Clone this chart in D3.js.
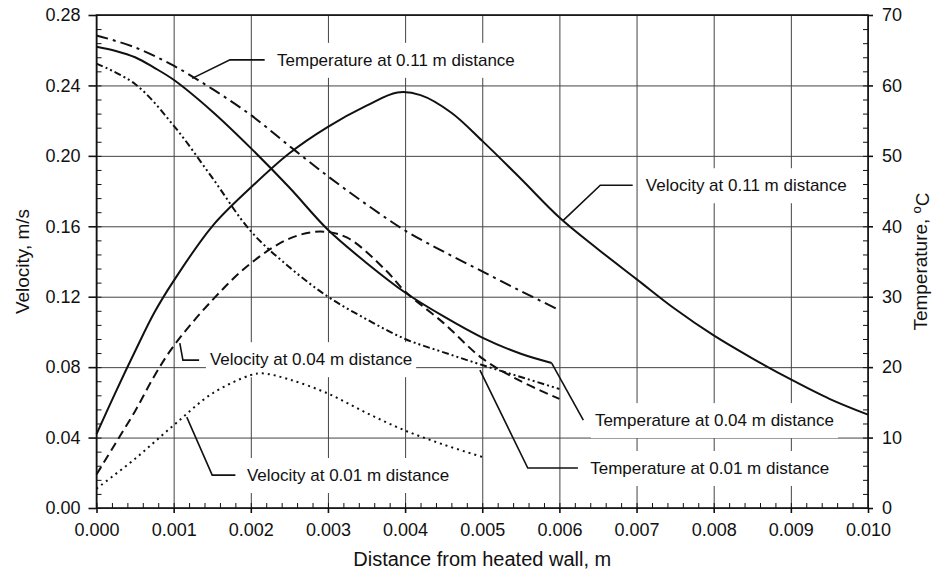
<!DOCTYPE html>
<html>
<head>
<meta charset="utf-8">
<script src="https://cdn.jsdelivr.net/npm/d3@7"></script>
<style>
    body { margin: 0; background: #fff; }
    svg text { font-family: "Liberation Sans", Arial, sans-serif; fill: #111; }
</style>
</head>
<body>
<div id="chart"></div>
<script>
// tick values for the three axes
var xTicks = [0, 0.001, 0.002, 0.003, 0.004, 0.005, 0.006, 0.007, 0.008, 0.009, 0.010];
var velTicks = [0, 0.04, 0.08, 0.12, 0.16, 0.20, 0.24, 0.28];
var tempTicks = [0, 10, 20, 30, 40, 50, 60, 70];

// velocity curves (m/s, left axis)
var vel11X = [0, 0.00025, 0.0005, 0.00075, 0.001, 0.0015, 0.002, 0.0025, 0.003, 0.0035, 0.0039, 0.0042, 0.0046, 0.005, 0.0055, 0.006, 0.0065, 0.007, 0.0075, 0.008, 0.0085, 0.009, 0.0095, 0.010];
var vel11 = [0.042, 0.066, 0.089, 0.111, 0.129, 0.160, 0.182, 0.2015, 0.2165, 0.2285, 0.236, 0.2345, 0.2245, 0.2085, 0.187, 0.165, 0.147, 0.130, 0.113, 0.098, 0.085, 0.073, 0.062, 0.053];

var vel04X = [0, 0.00025, 0.0005, 0.00075, 0.001, 0.0015, 0.002, 0.0025, 0.0029, 0.00325, 0.00375, 0.004, 0.0045, 0.005, 0.0055, 0.006];
var vel04 = [0.019, 0.037, 0.055, 0.075, 0.092, 0.118, 0.139, 0.153, 0.157, 0.1535, 0.135, 0.123, 0.105, 0.085, 0.072, 0.062];

var vel01X = [0, 0.0005, 0.001, 0.0015, 0.002, 0.00215, 0.0025, 0.003, 0.0035, 0.004, 0.0045, 0.005];
var vel01 = [0.011, 0.028, 0.047, 0.065, 0.0755, 0.0765, 0.073, 0.065, 0.054, 0.044, 0.036, 0.029];

// temperature curves (deg C, right axis)
var temp11X = [0, 0.0005, 0.001, 0.0015, 0.002, 0.0025, 0.003, 0.0035, 0.004, 0.0045, 0.005, 0.0055, 0.006];
var temp11 = [67.1, 65.4, 62.8, 59.5, 55.8, 51.4, 47.1, 43.1, 39.4, 36.4, 33.6, 30.8, 28.1];

var temp04X = [0, 0.00025, 0.0005, 0.00075, 0.001, 0.0015, 0.002, 0.0025, 0.003, 0.0035, 0.004, 0.0045, 0.005, 0.0055, 0.0059];
var temp04 = [65.5, 64.9, 64.0, 62.5, 60.8, 56.3, 51.1, 45.5, 39.5, 34.8, 30.6, 27.2, 24.2, 21.9, 20.6];

var temp01X = [0, 0.0005, 0.001, 0.0015, 0.002, 0.0025, 0.003, 0.0035, 0.004, 0.0045, 0.005, 0.0055, 0.006];
var temp01 = [63.1, 60.2, 54.3, 46.9, 39.3, 34.2, 30.0, 26.8, 24.0, 22.1, 20.3, 18.6, 16.9];

// annotation labels: leader line points are [distance, velocity]
var labelNames = [
    "Temperature at 0.11 m distance",
    "Velocity at 0.11 m distance",
    "Velocity at 0.04 m distance",
    "Velocity at 0.01 m distance",
    "Temperature at 0.04 m distance",
    "Temperature at 0.01 m distance"
];
var labelLeaders = [
    [[0.00124, 0.244], [0.00173, 0.2545], [0.00218, 0.2545]],
    [[0.00605, 0.1634], [0.00653, 0.1833], [0.00695, 0.1833]],
    [[0.00108, 0.0936], [0.00112, 0.084], [0.00133, 0.084]],
    [[0.00117, 0.0516], [0.0015, 0.0187], [0.0018, 0.0187]],
    [[0.0059, 0.0823], [0.00631, 0.0499]],
    [[0.00497, 0.0783], [0.00559, 0.0227], [0.00624, 0.0227]]
];
var labelAt = [[0.00234, 0.2545], [0.00712, 0.1833], [0.00147, 0.0845], [0.00195, 0.0187], [0.00646, 0.0499], [0.0064, 0.0227]];

// set the dimensions and margins of the graph
var margin = {top: 15, right: 65, bottom: 71, left: 96.5};
var width = 933 - margin.left - margin.right;
var height = 579 - margin.top - margin.bottom;

var x = d3.scaleLinear().domain([0, 0.010]).range([0, width]);
var yVel = d3.scaleLinear().domain([0, 0.28]).range([height, 0]);
var yTemp = d3.scaleLinear().domain([0, 70]).range([height, 0]);

var svg = d3.select("#chart").append("svg")
    .attr("width", 933)
    .attr("height", 579)
    .append("g")
    .attr("transform", "translate(" + margin.left + "," + margin.top + ")");

// gridlines
svg.append("g")
    .attr("class", "grid")
    .attr("transform", "translate(0," + height + ")")
    .call(d3.axisBottom(x).tickValues(xTicks).tickSize(-height).tickFormat(""));
svg.append("g")
    .attr("class", "grid")
    .call(d3.axisLeft(yVel).tickValues(velTicks).tickSize(-width).tickFormat(""));
svg.selectAll(".grid .domain").remove();
svg.selectAll(".grid line").attr("stroke", "#444").attr("stroke-width", 1);

// labels, with white boxes behind them (they break the gridlines)
var labelLayer = svg.append("g");
var labelTexts = labelLayer.selectAll("text")
    .data(labelNames)
    .enter()
    .append("text")
    .attr("x", function(d, i) { return x(labelAt[i][0]); })
    .attr("y", function(d, i) { return yVel(labelAt[i][1]); })
    .attr("dy", "0.35em")
    .style("font-size", "17px")
    .text(function(d) { return d; });

labelTexts.each(function() {
    var b = this.getBBox();
    labelLayer.insert("rect", "text")
        .attr("x", b.x - 4)
        .attr("y", b.y - 8)
        .attr("width", b.width + 8)
        .attr("height", b.height + 16)
        .attr("fill", "#fff");
});

// curves
var series = [
    {xs: vel11X, ys: vel11, scale: yVel, dash: null},
    {xs: vel04X, ys: vel04, scale: yVel, dash: "9,5"},
    {xs: vel01X, ys: vel01, scale: yVel, dash: "2,4"},
    {xs: temp11X, ys: temp11, scale: yTemp, dash: "12,5,3,5"},
    {xs: temp04X, ys: temp04, scale: yTemp, dash: null},
    {xs: temp01X, ys: temp01, scale: yTemp, dash: "7,3,2,3,2,3"}
];

series.forEach(function(s) {
    var pts = s.xs.map(function(v, i) { return [v, s.ys[i]]; });
    var line = d3.line()
        .x(function(d) { return x(d[0]); })
        .y(function(d) { return s.scale(d[1]); })
        .curve(d3.curveCatmullRom.alpha(0.5));
    svg.append("path")
        .datum(pts)
        .attr("d", line)
        .attr("fill", "none")
        .attr("stroke", "#111")
        .attr("stroke-width", 2)
        .attr("stroke-dasharray", s.dash);
});

// leader lines from labels to curves
var leader = d3.line()
    .x(function(d) { return x(d[0]); })
    .y(function(d) { return yVel(d[1]); });
svg.selectAll(".leader")
    .data(labelLeaders)
    .enter()
    .append("path")
    .attr("class", "leader")
    .attr("d", leader)
    .attr("fill", "none")
    .attr("stroke", "#111")
    .attr("stroke-width", 1.6);

labelLayer.lower();
svg.selectAll(".grid").lower();

// frame
svg.append("rect")
    .attr("width", width)
    .attr("height", height)
    .attr("fill", "none")
    .attr("stroke", "#111")
    .attr("stroke-width", 1.6);

// minor ticks pointing inwards
var xMinor = d3.range(0, 51).map(function(i) { return i * 0.0002; });
var velMinor = d3.range(0, 36).map(function(i) { return i * 0.008; });
var tempMinor = d3.range(0, 36).map(function(i) { return i * 2; });

var minorAxes = [
    svg.append("g").attr("transform", "translate(0," + height + ")")
        .call(d3.axisBottom(x).tickValues(xMinor).tickSize(-5).tickFormat("")),
    svg.append("g")
        .call(d3.axisLeft(yVel).tickValues(velMinor).tickSize(-5).tickFormat("")),
    svg.append("g").attr("transform", "translate(" + width + ",0)")
        .call(d3.axisRight(yTemp).tickValues(tempMinor).tickSize(-5).tickFormat(""))
];
minorAxes.forEach(function(a) {
    a.select(".domain").remove();
    a.selectAll("line").attr("stroke", "#111");
});

// major axes with labels
var xAxis = svg.append("g")
    .attr("transform", "translate(0," + height + ")")
    .call(d3.axisBottom(x).tickValues(xTicks).tickSize(5).tickPadding(10).tickFormat(d3.format(".3f")));
var yAxisLeft = svg.append("g")
    .call(d3.axisLeft(yVel).tickValues(velTicks).tickSize(8).tickPadding(8).tickFormat(d3.format(".2f")));
var yAxisRight = svg.append("g")
    .attr("transform", "translate(" + width + ",0)")
    .call(d3.axisRight(yTemp).tickValues(tempTicks).tickSize(5).tickPadding(9).tickFormat(d3.format("d")));

[xAxis, yAxisLeft, yAxisRight].forEach(function(a) {
    a.select(".domain").remove();
    a.selectAll("line").attr("stroke", "#111").attr("stroke-width", 1.6);
    a.selectAll("text")
        .style("font-size", "18px")
        .style("font-family", "Liberation Sans, Arial, sans-serif")
        .attr("fill", "#111");
});

// axis titles
svg.append("text")
    .attr("x", width / 2)
    .attr("y", height + 58)
    .attr("text-anchor", "middle")
    .style("font-size", "20px")
    .text("Distance from heated wall, m");

svg.append("text")
    .attr("transform", "translate(" + (22 - margin.left) + "," + (height / 2) + ") rotate(-90)")
    .attr("text-anchor", "middle")
    .attr("dy", "0.35em")
    .style("font-size", "19px")
    .text("Velocity, m/s");

var tTitle = svg.append("text")
    .attr("transform", "translate(" + (width + 52) + "," + (height / 2) + ") rotate(-90)")
    .attr("text-anchor", "middle")
    .attr("dy", "0.35em")
    .style("font-size", "19px");
tTitle.append("tspan").text("Temperature, ");
tTitle.append("tspan").attr("dy", "-0.45em").style("font-size", "13px").text("o");
tTitle.append("tspan").attr("dy", "0.45em").text("C");
</script>
</body>
</html>
